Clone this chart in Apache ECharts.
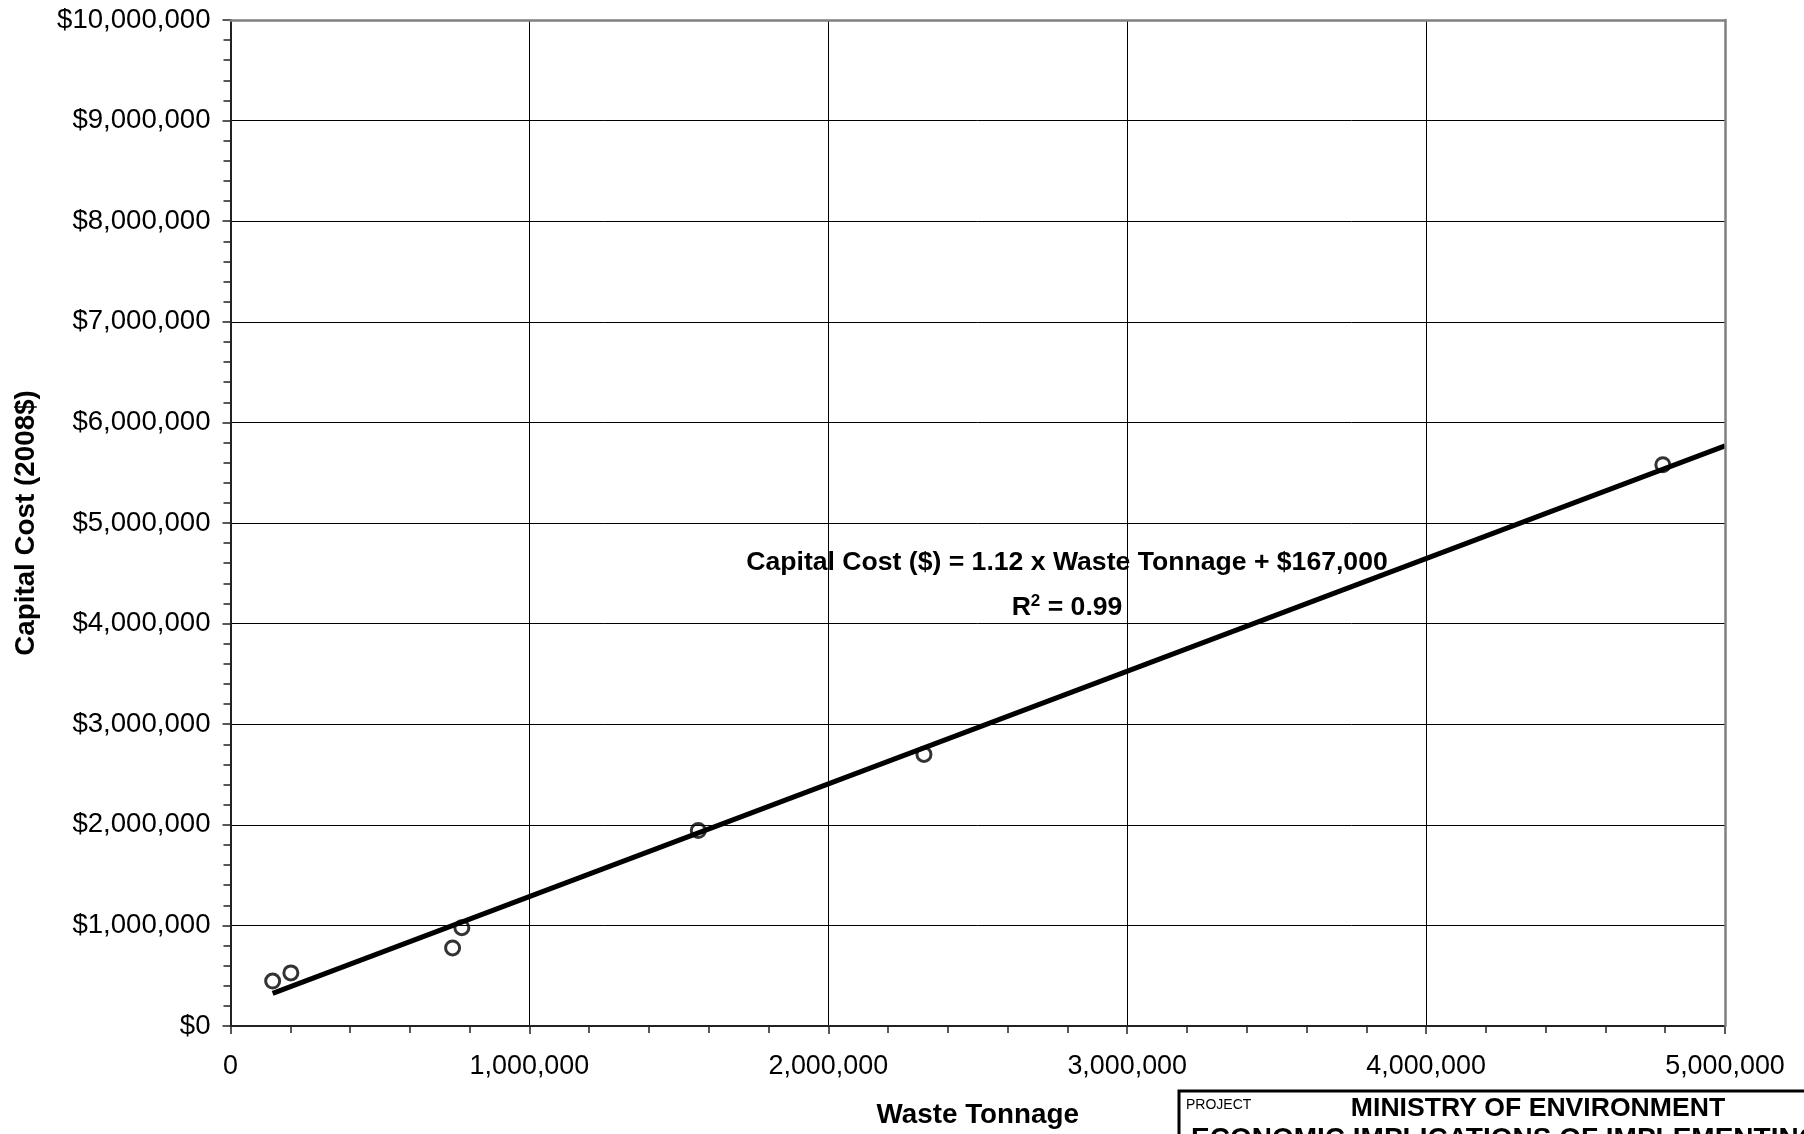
<!DOCTYPE html>
<html>
<head>
<meta charset="utf-8">
<script src="https://cdn.jsdelivr.net/npm/echarts@6/dist/echarts.min.js"></script>
<style>
html,body{margin:0;padding:0;background:#fff;}
#chart{width:1804px;height:1134px;}
</style>
</head>
<body>
<div id="chart"></div>
<script>
// Data
const tonnage = [141000, 202000, 743000, 774000, 1565000, 2320000, 4792000];
const capitalCost = [447000, 528000, 776000, 977000, 1943000, 2700000, 5580000];
// Trendline end points (Capital Cost = 1.12 x Waste Tonnage + 167,000)
const trendX = [141000, 5000000];
const trendY = [325000, 5767000];
const xTicks = [0, 1000000, 2000000, 3000000, 4000000, 5000000];
const yTicks = [0, 1000000, 2000000, 3000000, 4000000, 5000000, 6000000, 7000000, 8000000, 9000000, 10000000];
const equationText = 'Capital Cost ($) = 1.12 x Waste Tonnage + $167,000';
const r2Text = '0.99';

const FONT = 'Liberation Sans, Arial, sans-serif';
const FS = 26.6;
const NAME_FS = 27.8;

function fmt(v) { return v.toLocaleString('en-US'); }

const chart = echarts.init(document.getElementById('chart'), null, {renderer: 'canvas'});

const option = {
  animation: false,
  backgroundColor: '#fff',
  grid: {left: 230.5, right: 79, top: 20, bottom: 104.5, containLabel: false},
  xAxis: [{
    type: 'value',
    min: xTicks[0], max: xTicks[xTicks.length - 1], interval: 1000000,
    name: 'Waste Tonnage', nameLocation: 'middle', nameGap: 75,
    nameTextStyle: {fontFamily: FONT, fontSize: NAME_FS, fontWeight: 'bold', color: '#000'},
    axisLine: {show: true, onZero: false, lineStyle: {color: '#222', width: 2}},
    axisTick: {show: true, length: 8, lineStyle: {color: '#222', width: 1.5}},
    minorTick: {show: true, splitNumber: 5, length: 7, lineStyle: {color: '#222', width: 1.5}},
    axisLabel: {fontFamily: FONT, fontSize: 26.9, color: '#000', margin: 27.5, formatter: v => fmt(v)},
    splitLine: {show: true, lineStyle: {color: '#000', width: 1}}
  }, {
    type: 'value', position: 'top', min: 0, max: 5000000, interval: 1000000,
    z: 5,
    axisLine: {show: true, onZero: false, lineStyle: {color: '#808080', width: 2.5}},
    axisTick: {show: false}, axisLabel: {show: false}, splitLine: {show: false}
  }],
  yAxis: [{
    type: 'value',
    min: yTicks[0], max: yTicks[yTicks.length - 1], interval: 1000000,
    name: 'Capital Cost (2008$)', nameLocation: 'middle', nameGap: 190, nameRotate: 90,
    nameTextStyle: {fontFamily: FONT, fontSize: NAME_FS, fontWeight: 'bold', color: '#000'},
    axisLine: {show: true, onZero: false, lineStyle: {color: '#222', width: 2}},
    axisTick: {show: true, length: 8, lineStyle: {color: '#222', width: 1.5}},
    minorTick: {show: true, splitNumber: 5, length: 7, lineStyle: {color: '#222', width: 1.5}},
    axisLabel: {fontFamily: FONT, fontSize: 27.6, color: '#000', margin: 20, formatter: v => '$' + fmt(v)},
    splitLine: {show: true, lineStyle: {color: '#000', width: 1}}
  }, {
    type: 'value', position: 'right', min: 0, max: 10000000, interval: 1000000,
    z: 5,
    axisLine: {show: true, onZero: false, lineStyle: {color: '#808080', width: 2.5}},
    axisTick: {show: false}, axisLabel: {show: false}, splitLine: {show: false}
  }],
  series: [{
    type: 'scatter',
    xAxisIndex: 0, yAxisIndex: 0,
    symbol: 'circle', symbolSize: 14,
    itemStyle: {color: 'rgba(255,255,255,0)', borderColor: '#000', borderWidth: 3},
    data: tonnage.map((t, i) => [t, capitalCost[i]]),
    z: 3
  }, {
    type: 'line',
    xAxisIndex: 0, yAxisIndex: 0,
    showSymbol: false, symbol: 'none',
    lineStyle: {color: '#000', width: 5},
    data: trendX.map((t, i) => [t, trendY[i]]),
    z: 4
  }],
  graphic: [
    {
      type: 'text', x: 1067, y: 562.5, z: 10,
      style: {text: equationText, font: 'bold ' + FS + 'px ' + FONT, fill: '#000', align: 'center', verticalAlign: 'middle'}
    },
    {
      type: 'text', x: 1067, y: 607.5, z: 10,
      style: {
        text: '{b|R}{s|2}{b| = ' + r2Text + '}',
        align: 'center', verticalAlign: 'middle',
        rich: {
          b: {fontFamily: FONT, fontSize: FS, fontWeight: 'bold', color: '#000', lineHeight: 30},
          s: {fontFamily: FONT, fontSize: 17, fontWeight: 'bold', color: '#000', lineHeight: 30, verticalAlign: 'top'}
        }
      }
    },
    {
      type: 'rect', z: 10,
      shape: {x: 1179, y: 1091, width: 800, height: 120},
      style: {fill: '#fff', stroke: '#000', lineWidth: 3}
    },
    {
      type: 'text', x: 1186, y: 1105, z: 11,
      style: {text: 'PROJECT', font: '14px "Liberation Sans Narrow", "Liberation Sans", Arial, sans-serif', fill: '#000', align: 'left', verticalAlign: 'middle'}
    },
    {
      type: 'text', x: 1538, y: 1109, z: 11,
      style: {text: 'MINISTRY OF ENVIRONMENT', font: 'bold ' + FS + 'px ' + FONT, fill: '#000', align: 'center', verticalAlign: 'middle'}
    },
    {
      type: 'text', x: 1191, y: 1139, z: 11,
      style: {text: 'ECONOMIC IMPLICATIONS OF IMPLEMENTING', font: 'bold 28px ' + FONT, fill: '#000', align: 'left', verticalAlign: 'middle'}
    }
  ]
};
chart.setOption(option);
</script>
</body>
</html>
